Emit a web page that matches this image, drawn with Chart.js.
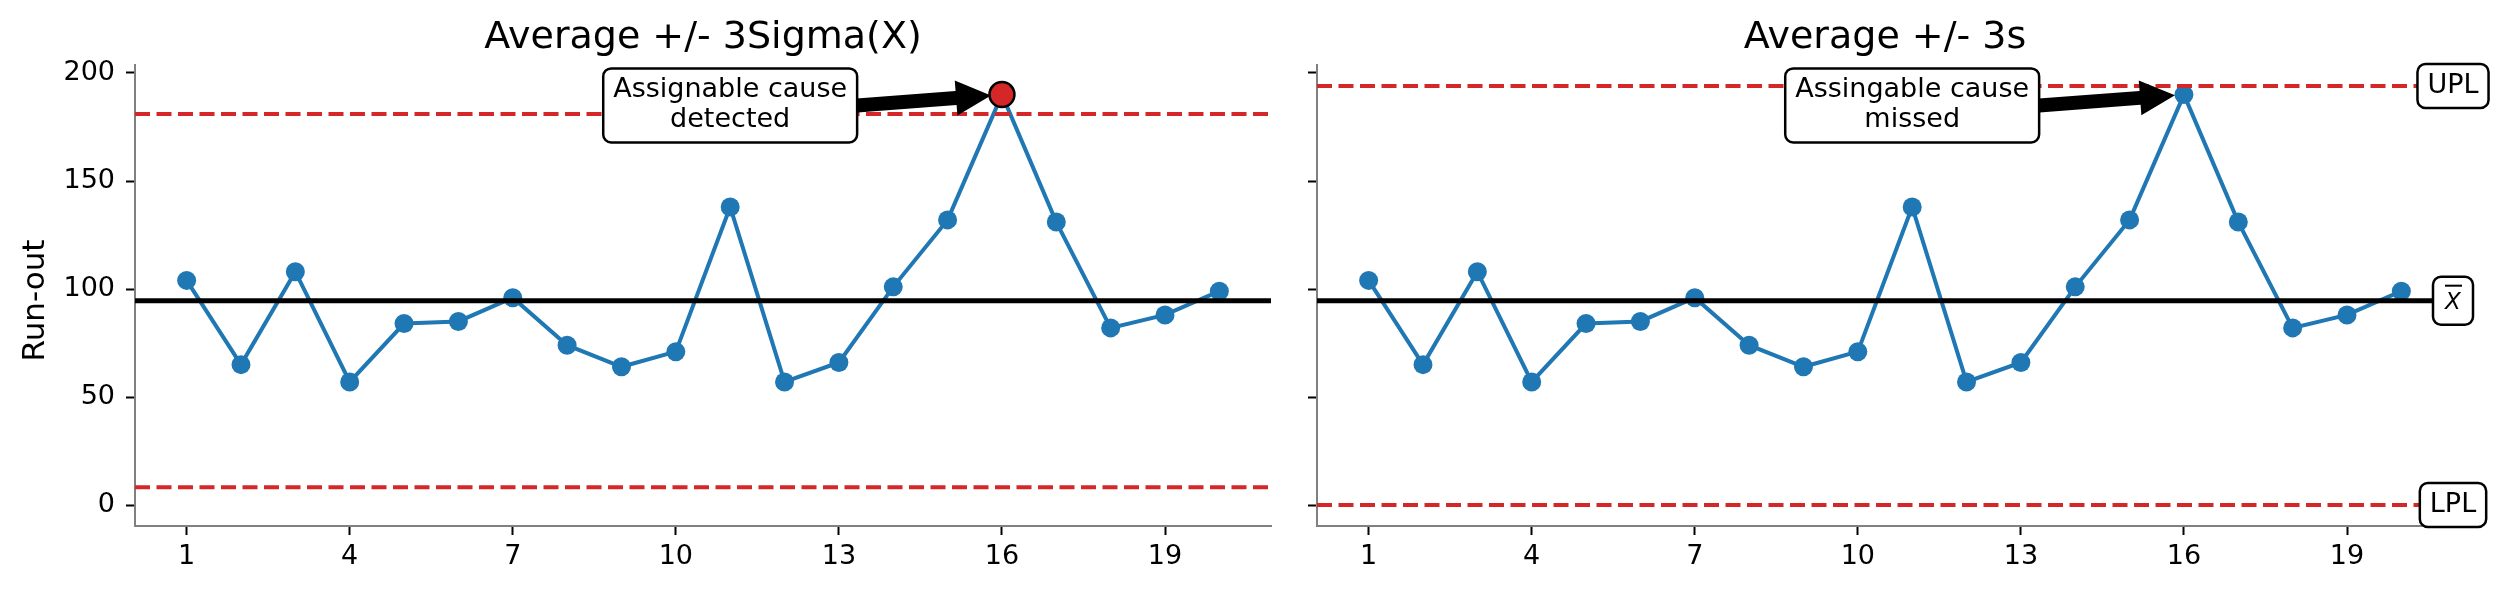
<!DOCTYPE html>
<html>
<head>
<meta charset="utf-8">
<script src="https://cdn.jsdelivr.net/npm/chart.js@4.4.1/dist/chart.umd.min.js"></script>
<style>
  html, body { margin: 0; padding: 0; background: #fff; }
  body { width: 2500px; height: 593px; position: relative; overflow: hidden; }
  canvas { position: absolute; top: 0; }
  #leftChart { left: 0; }
  #rightChart { left: 1280px; }
</style>
</head>
<body>
<canvas id="leftChart" width="1280" height="593"></canvas>
<canvas id="rightChart" width="1220" height="593"></canvas>
<script>
// run-out per sample
const samples = [1, 2, 3, 4, 5, 6, 7, 8, 9, 10, 11, 12, 13, 14, 15, 16, 17, 18, 19, 20];
const runOut = [104, 65, 108, 57, 84, 85, 96, 74, 64, 71, 138, 57, 66, 101, 132, 190, 131, 82, 88, 99];
const xTicks = [1, 4, 7, 10, 13, 16, 19];
const yTicks = [0, 50, 100, 150, 200];

const average = 94.6;
const sigmaLimits = [8.2, 181];     // lower / upper, average +/- 3 sigma(X)
const processLimits = [0, 194];     // LPL / UPL, average +/- 3s
const outlier = 15;                 // index of sample 16
const noteAt = [11, 185];           // annotation text position (data units)

const xRange = [0.05, 20.95];
const yRange = [-9.7, 203.7];

const blue = '#1f77b4';
const red = '#d62728';
const FONT = "'DejaVu Sans', sans-serif";

function hline(y, color, width, dash) {
    return {
        data: [{ x: xRange[0], y: y }, { x: xRange[1], y: y }],
        borderColor: color,
        borderWidth: width,
        borderDash: dash,
        pointRadius: 0,
        fill: false
    };
}

function roundBox(ctx, x, y, w, h, r) {
    ctx.beginPath();
    ctx.moveTo(x + r, y);
    ctx.lineTo(x + w - r, y);
    ctx.arcTo(x + w, y, x + w, y + r, r);
    ctx.lineTo(x + w, y + h - r);
    ctx.arcTo(x + w, y + h, x + w - r, y + h, r);
    ctx.lineTo(x + r, y + h);
    ctx.arcTo(x, y + h, x, y + h - r, r);
    ctx.lineTo(x, y + r);
    ctx.arcTo(x, y, x + r, y, r);
    ctx.closePath();
    ctx.fillStyle = '#fff';
    ctx.fill();
    ctx.lineWidth = 2.5;
    ctx.strokeStyle = '#000';
    ctx.stroke();
}

// draws a text box centred on (cx, cy)
function textBox(ctx, lines, cx, cy, font, padX, padY, lineH) {
    ctx.font = font;
    let tw = 0;
    lines.forEach(l => { tw = Math.max(tw, ctx.measureText(l).width); });
    const w = tw + 2 * padX;
    const h = lines.length * lineH + 2 * padY;
    roundBox(ctx, cx - w / 2, cy - h / 2, w, h, 8);
    ctx.fillStyle = '#000';
    ctx.textAlign = 'center';
    ctx.textBaseline = 'middle';
    lines.forEach((l, i) => {
        ctx.fillText(l, cx, cy - h / 2 + padY + lineH * (i + 0.5));
    });
}

function arrow(ctx, x0, y0, x1, y1) {
    const dx = x1 - x0, dy = y1 - y0, len = Math.hypot(dx, dy);
    const ux = dx / len, uy = dy / len, px = -uy, py = ux;
    const headL = 35, headW = 17.5, shaftW = 7;
    const bx = x1 - ux * headL, by = y1 - uy * headL;
    ctx.beginPath();
    ctx.moveTo(x0 + px * shaftW, y0 + py * shaftW);
    ctx.lineTo(bx + px * shaftW, by + py * shaftW);
    ctx.lineTo(bx + px * headW, by + py * headW);
    ctx.lineTo(x1, y1);
    ctx.lineTo(bx - px * headW, by - py * headW);
    ctx.lineTo(bx - px * shaftW, by - py * shaftW);
    ctx.lineTo(x0 - px * shaftW, y0 - py * shaftW);
    ctx.closePath();
    ctx.fillStyle = '#000';
    ctx.fill();
}

function makeChart(id, opts) {
    const points = samples.map((s, i) => ({ x: s, y: runOut[i] }));
    const datasets = [];
    if (opts.highlight) {
        datasets.push({
            data: [{ x: samples[outlier], y: runOut[outlier] }],
            showLine: false,
            pointRadius: 12.5,
            pointBackgroundColor: red,
            pointBorderColor: '#000',
            pointBorderWidth: 2.5
        });
    }
    datasets.push(hline(opts.limits[1], red, 4, [15, 6.5]));
    datasets.push(hline(opts.limits[0], red, 4, [15, 6.5]));
    datasets.push(hline(average, '#000', 5, []));
    datasets.push({
        data: points,
        borderColor: blue,
        borderWidth: 4,
        pointRadius: 9.5,
        pointBackgroundColor: blue,
        pointBorderWidth: 0,
        fill: false
    });

    const decorations = {
        id: 'decorations',
        afterDatasetsDraw(chart) {
            const ctx = chart.ctx;
            const xs = chart.scales.x, ys = chart.scales.y;
            const area = chart.chartArea;
            ctx.save();

            // annotation with arrow to the peak
            const font = '27px ' + FONT;
            ctx.font = font;
            const cx = xs.getPixelForValue(noteAt[0]);
            const cy = ys.getPixelForValue(noteAt[1]);
            let tw = 0;
            opts.note.forEach(l => { tw = Math.max(tw, ctx.measureText(l).width); });
            const tx = xs.getPixelForValue(samples[outlier]);
            const ty = ys.getPixelForValue(runOut[outlier]);
            const shrink = opts.highlight ? 11 : 9;
            const sx = cx + tw / 2 + 10;
            const ang = Math.atan2(ty - cy, tx - sx);
            arrow(ctx, sx, cy, tx - Math.cos(ang) * shrink, ty - Math.sin(ang) * shrink);
            textBox(ctx, opts.note, cx, cy, font, 10, 7, 30);

            // limit labels on the right edge
            if (opts.sideLabels) {
                const rx = xs.getPixelForValue(xRange[1]);
                textBox(ctx, ['UPL'], rx, ys.getPixelForValue(processLimits[1]), font, 10, 7, 30);
                textBox(ctx, ['LPL'], rx, ys.getPixelForValue(processLimits[0]), font, 10, 7, 30);
                const my = ys.getPixelForValue(average);
                roundBox(ctx, rx - 20, my - 24, 40, 48, 8);
                ctx.font = 'italic 23px ' + FONT;
                ctx.fillStyle = '#000';
                ctx.textAlign = 'center';
                ctx.textBaseline = 'middle';
                ctx.fillText('X', rx, my + 2);
                ctx.fillRect(rx - 8, my - 16, 17, 2);
            }

            // y label
            if (opts.yLabels) {
                ctx.save();
                ctx.translate(36, (area.top + area.bottom) / 2 + 5);
                ctx.rotate(-Math.PI / 2);
                ctx.font = '31px ' + FONT;
                ctx.fillStyle = '#000';
                ctx.textAlign = 'center';
                ctx.textBaseline = 'middle';
                ctx.fillText('Run-out', 0, 0);
                ctx.restore();
            }

            // title
            ctx.font = '38px ' + FONT;
            ctx.fillStyle = '#000';
            ctx.textAlign = 'center';
            ctx.textBaseline = 'alphabetic';
            ctx.fillText(opts.title, (area.left + area.right) / 2, 48);
            ctx.restore();
        }
    };

    return new Chart(document.getElementById(id), {
        type: 'line',
        data: { datasets: datasets },
        options: {
            responsive: false,
            devicePixelRatio: 1,
            animation: false,
            layout: { autoPadding: false, padding: { left: 0, right: opts.padRight, top: 65, bottom: 0 } },
            plugins: { legend: { display: false }, tooltip: { enabled: false } },
            scales: {
                x: {
                    type: 'linear',
                    min: xRange[0],
                    max: xRange[1],
                    afterBuildTicks: s => { s.ticks = xTicks.map(v => ({ value: v })); },
                    afterFit: s => { s.height = 67; s.paddingLeft = 0; s.paddingRight = 0; },
                    ticks: { autoSkip: false, maxRotation: 0, padding: 6, color: '#000', font: { family: FONT, size: 27 } },
                    grid: { drawOnChartArea: false, tickLength: 9, tickWidth: 2, tickColor: '#000' },
                    border: { color: '#808080', width: 2 }
                },
                y: {
                    min: yRange[0],
                    max: yRange[1],
                    afterBuildTicks: s => { s.ticks = yTicks.map(v => ({ value: v })); },
                    afterFit: s => { s.width = opts.yWidth; s.paddingTop = 0; s.paddingBottom = 0; },
                    ticks: {
                        padding: 11,
                        color: '#000',
                        font: { family: FONT, size: 27 },
                        callback: v => opts.yLabels ? v : ''
                    },
                    grid: { drawOnChartArea: false, tickLength: 9, tickWidth: 2, tickColor: '#000' },
                    border: { color: '#808080', width: 2 }
                }
            }
        },
        plugins: [decorations]
    });
}

makeChart('leftChart', {
    title: 'Average +/- 3Sigma(X)',
    note: ['Assignable cause', 'detected'],
    limits: sigmaLimits,
    highlight: true,
    sideLabels: false,
    yLabels: true,
    yWidth: 135,
    padRight: 9
});

makeChart('rightChart', {
    title: 'Average +/- 3s',
    note: ['Assingable cause', 'missed'],
    limits: processLimits,
    highlight: false,
    sideLabels: true,
    yLabels: false,
    yWidth: 37,
    padRight: 47
});
</script>
</body>
</html>
